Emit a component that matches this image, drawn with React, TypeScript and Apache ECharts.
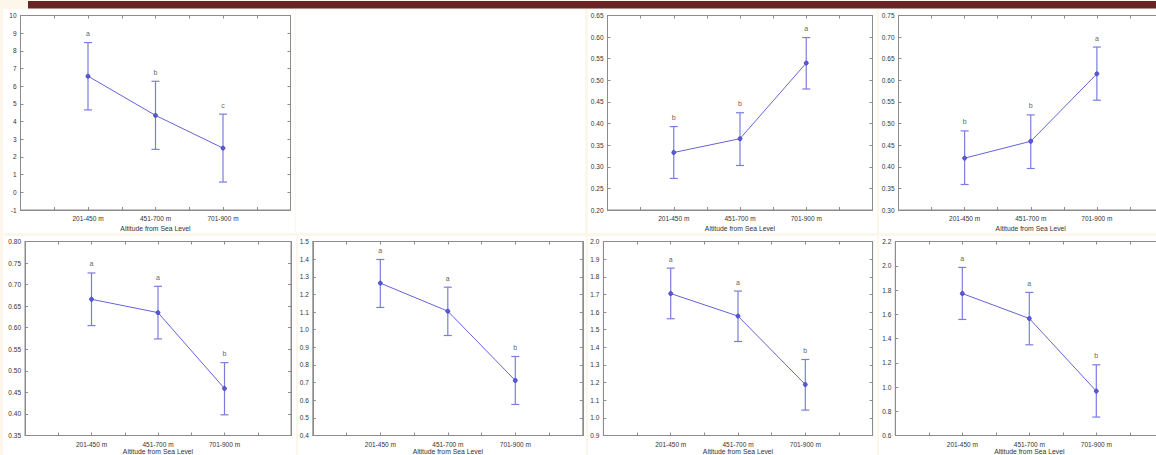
import React, { useEffect, useRef } from "react";
import * as echarts from "echarts";

// ---------- DATA ----------
const categories = ["201-450 m", "451-700 m", "701-900 m"];
const xAxisName = "Altitude from Sea Level";

const p1Mean = [6.57, 4.35, 2.5];
const p1Low = [4.66, 2.43, 0.58];
const p1High = [8.47, 6.28, 4.42];
const p1Letters = ["a", "b", "c"];
const p1Ticks = [-1, 10, 1, 0]; // min, max, interval, decimals

const p3Mean = [0.333, 0.365, 0.54];
const p3Low = [0.273, 0.303, 0.48];
const p3High = [0.393, 0.425, 0.599];
const p3Letters = ["b", "b", "a"];
const p3Ticks = [0.2, 0.65, 0.05, 2];

const p4Mean = [0.42, 0.459, 0.615];
const p4Low = [0.359, 0.396, 0.554];
const p4High = [0.483, 0.52, 0.677];
const p4Letters = ["b", "b", "a"];
const p4Ticks = [0.3, 0.75, 0.05, 2];

const p5Mean = [0.666, 0.635, 0.459];
const p5Low = [0.605, 0.574, 0.398];
const p5High = [0.727, 0.696, 0.519];
const p5Letters = ["a", "a", "b"];
const p5Ticks = [0.35, 0.8, 0.05, 2];

const p6Mean = [1.264, 1.105, 0.712];
const p6Low = [1.126, 0.967, 0.576];
const p6High = [1.398, 1.241, 0.848];
const p6Letters = ["a", "a", "b"];
const p6Ticks = [0.4, 1.5, 0.1, 1];

const p7Mean = [1.705, 1.577, 1.189];
const p7Low = [1.562, 1.433, 1.044];
const p7High = [1.849, 1.719, 1.331];
const p7Letters = ["a", "a", "b"];
const p7Ticks = [0.9, 2.0, 0.1, 1];

const p8Mean = [1.771, 1.565, 0.966];
const p8Low = [1.557, 1.348, 0.752];
const p8High = [1.986, 1.78, 1.183];
const p8Letters = ["a", "a", "b"];
const p8Ticks = [0.6, 2.2, 0.2, 1];

// ---------- LAYOUT ----------
const panelData = [
  { mean: p1Mean, low: p1Low, high: p1High, letters: p1Letters, ticks: p1Ticks, gap: 15, box: { left: 20.5, top: 15.5, width: 270, height: 194.5 } },
  { mean: p3Mean, low: p3Low, high: p3High, letters: p3Letters, ticks: p3Ticks, gap: 15, box: { left: 607.5, top: 15.5, width: 265, height: 194.5 } },
  { mean: p4Mean, low: p4Low, high: p4High, letters: p4Letters, ticks: p4Ticks, gap: 15, box: { left: 898.5, top: 15.5, width: 264.5, height: 194.5 } },
  { mean: p5Mean, low: p5Low, high: p5High, letters: p5Letters, ticks: p5Ticks, gap: 12, box: { left: 25, top: 241.5, width: 266, height: 194 } },
  { mean: p6Mean, low: p6Low, high: p6High, letters: p6Letters, ticks: p6Ticks, gap: 12, box: { left: 312.8, top: 241.5, width: 270, height: 194 } },
  { mean: p7Mean, low: p7Low, high: p7High, letters: p7Letters, ticks: p7Ticks, gap: 12, box: { left: 603.4, top: 241.5, width: 269.2, height: 194 } },
  { mean: p8Mean, low: p8Low, high: p8High, letters: p8Letters, ticks: p8Ticks, gap: 12, box: { left: 895.3, top: 241.5, width: 268, height: 194 } },
];

const panelBgs = [
  [3, 9, 292, 224],
  [296, 9, 289, 224],
  [588, 9, 289, 224],
  [879, 9, 277, 224],
  [3, 236, 293, 219],
  [298, 236, 288, 219],
  [588, 236, 289, 219],
  [879, 236, 277, 219],
];

const FONT = "Liberation Sans, Arial, sans-serif";
const TEXT = "#333333";
const AXIS = "#8c8c8c";
const LINE = "#6464d8";
const ERR = "#7c7ce0";

export default function App() {
  const ref = useRef<HTMLDivElement>(null);

  useEffect(() => {
    if (!ref.current) return;
    document.body.style.margin = "0";
    document.body.style.overflow = "hidden";
    const chart = echarts.init(ref.current, undefined, { renderer: "svg" });

    const grid: any[] = [];
    const xAxis: any[] = [];
    const yAxis: any[] = [];
    const series: any[] = [];

    panelData.forEach((p, i) => {
      grid.push({
        ...p.box,
        show: true,
        backgroundColor: "#ffffff",
        borderColor: AXIS,
        borderWidth: 1,
        containLabel: false,
        outerBoundsMode: "none",
      });
      const [ymin, ymax, yint, dec] = p.ticks;
      const tickStyle = { show: true, inside: true, length: 3, lineStyle: { color: AXIS, width: 1 } };
      // bottom x
      xAxis.push({
        type: "value",
        gridIndex: i,
        min: 0,
        max: 4,
        interval: 0.5,
        position: "bottom",
        axisLine: { show: true, onZero: false, lineStyle: { color: AXIS } },
        axisTick: tickStyle,
        splitLine: { show: false },
        axisLabel: {
          show: true,
          margin: 5,
          fontSize: 6.5,
          fontFamily: FONT,
          color: TEXT,
          formatter: (v: number) => {
            const k = Math.round(v * 2) / 2;
            return Number.isInteger(k) && k >= 1 && k <= 3 ? categories[k - 1] : "";
          },
        },
        name: xAxisName,
        nameLocation: "middle",
        nameGap: p.gap,
        nameTextStyle: { fontSize: 6.8, fontFamily: FONT, color: TEXT },
      });
      // top x
      xAxis.push({
        type: "value",
        gridIndex: i,
        min: 0,
        max: 4,
        interval: 0.5,
        position: "top",
        axisLine: { show: true, onZero: false, lineStyle: { color: AXIS } },
        axisTick: tickStyle,
        splitLine: { show: false },
        axisLabel: { show: false },
      });
      // left y
      yAxis.push({
        type: "value",
        gridIndex: i,
        min: ymin,
        max: ymax,
        interval: yint,
        position: "left",
        axisLine: { show: true, onZero: false, lineStyle: { color: AXIS } },
        axisTick: tickStyle,
        splitLine: { show: false },
        axisLabel: {
          show: true,
          margin: 4,
          fontSize: 6.5,
          fontFamily: FONT,
          color: TEXT,
          formatter: (v: number) => v.toFixed(dec),
        },
      });
      // right y
      yAxis.push({
        type: "value",
        gridIndex: i,
        min: ymin,
        max: ymax,
        interval: yint,
        position: "right",
        axisLine: { show: true, onZero: false, lineStyle: { color: AXIS } },
        axisTick: tickStyle,
        splitLine: { show: false },
        axisLabel: { show: false },
      });

      const xi = i * 2;
      const yi = i * 2;

      // error bars
      series.push({
        type: "custom",
        xAxisIndex: xi,
        yAxisIndex: yi,
        z: 3,
        encode: { x: 0, y: [1, 2] },
        data: categories.map((_, k) => [k + 1, p.low[k], p.high[k]]),
        renderItem: (params: any, api: any) => {
          const x = api.value(0);
          const lo = api.coord([x, api.value(1)]);
          const hi = api.coord([x, api.value(2)]);
          const cap = 4;
          const style = { stroke: ERR, lineWidth: 1.2 };
          return {
            type: "group",
            children: [
              { type: "line", shape: { x1: lo[0], y1: lo[1], x2: hi[0], y2: hi[1] }, style },
              { type: "line", shape: { x1: lo[0] - cap, y1: lo[1], x2: lo[0] + cap, y2: lo[1] }, style },
              { type: "line", shape: { x1: hi[0] - cap, y1: hi[1], x2: hi[0] + cap, y2: hi[1] }, style },
            ],
          };
        },
      });

      // mean line
      series.push({
        type: "line",
        xAxisIndex: xi,
        yAxisIndex: yi,
        z: 4,
        data: categories.map((_, k) => [k + 1, p.mean[k]]),
        symbol: "circle",
        symbolSize: 4,
        lineStyle: { color: LINE, width: 1 },
        itemStyle: { color: "#5a5ad4", borderColor: "#4040c0", borderWidth: 0.8 },
      });

      // letters
      series.push({
        type: "scatter",
        xAxisIndex: xi,
        yAxisIndex: yi,
        z: 5,
        symbolSize: 1,
        itemStyle: { color: "rgba(0,0,0,0)" },
        data: categories.map((_, k) => [k + 1, p.high[k]]),
        label: {
          show: true,
          position: "top",
          distance: 5,
          fontSize: 7,
          fontFamily: FONT,
          color: TEXT,
          formatter: (d: any) => p.letters[d.dataIndex],
        },
      });
    });

    const graphicEls: any[] = panelBgs.map(([x, y, w, h]) => ({
      type: "rect",
      z: -100,
      shape: { x, y, width: w, height: h },
      style: { fill: "#ffffff" },
      silent: true,
    }));
    graphicEls.push({
      type: "rect",
      z: -50,
      shape: { x: 28, y: 1, width: 1128, height: 7.5 },
      style: { fill: "#6a2426" },
      silent: true,
    });

    chart.setOption({
      animation: false,
      backgroundColor: "#fcf7ea",
      grid,
      xAxis,
      yAxis,
      series,
      graphic: { elements: graphicEls },
    });

    return () => chart.dispose();
  }, []);

  return (
    <div
      ref={ref}
      style={{ position: "fixed", left: 0, top: 0, width: 1156, height: 455 }}
    />
  );
}
